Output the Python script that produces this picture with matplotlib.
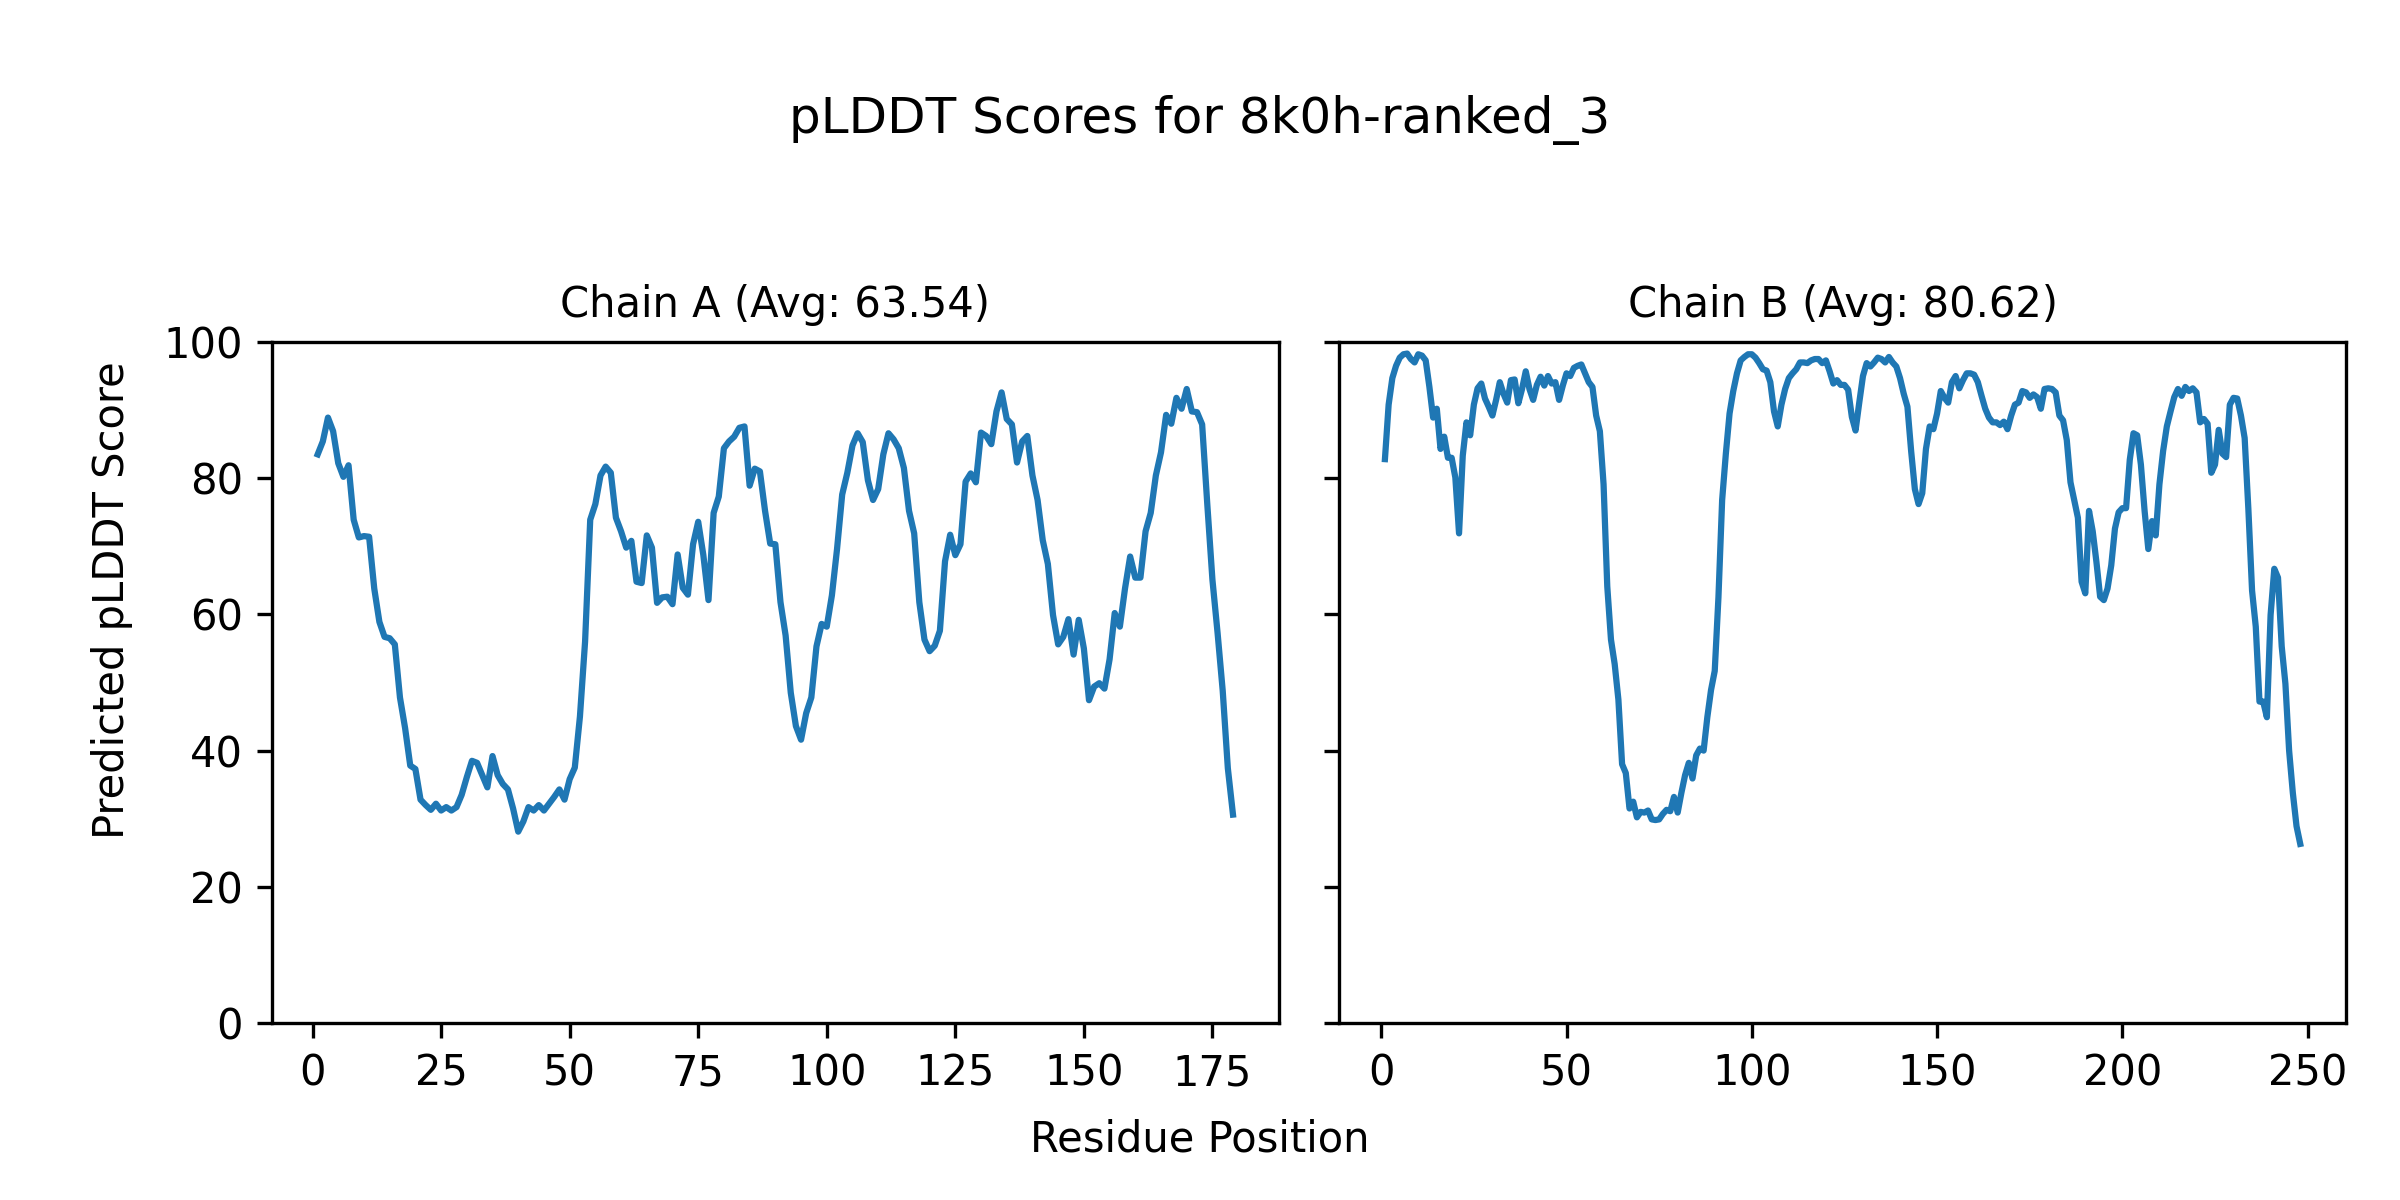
import matplotlib
matplotlib.use("Agg")
import matplotlib.pyplot as plt
import numpy as np

# Per-residue pLDDT values
chain_a_scores = [
    83.5, 85.4, 88.9, 86.9, 82.2, 80.2, 81.9, 73.9, 71.3, 71.5,
    71.4, 63.8, 58.9, 56.7, 56.5, 55.6, 47.8, 43.3, 37.8, 37.3,
    32.8, 32.0, 31.3, 32.2, 31.2, 31.7, 31.2, 31.7, 33.5, 36.1,
    38.5, 38.2, 36.4, 34.6, 39.2, 36.4, 35.1, 34.3, 31.5, 28.1,
    29.6, 31.7, 31.2, 32.0, 31.2, 32.2, 33.2, 34.3, 32.8, 35.8,
    37.5, 45.0, 56.0, 73.9, 76.2, 80.4, 81.7, 80.8, 74.2, 72.2,
    69.8, 70.8, 64.8, 64.6, 71.6, 69.8, 61.7, 62.5, 62.6, 61.5,
    68.8, 63.9, 62.9, 70.3, 73.6, 68.7, 62.1, 74.9, 77.3, 84.4,
    85.4, 86.1, 87.4, 87.6, 78.9, 81.4, 81.0, 75.2, 70.4, 70.3,
    61.8, 56.9, 48.5, 43.6, 41.6, 45.5, 47.8, 55.3, 58.6, 58.2,
    62.8, 69.6, 77.6, 80.8, 84.8, 86.6, 85.3, 79.7, 76.8, 78.4,
    83.5, 86.6, 85.7, 84.4, 81.5, 75.2, 71.9, 61.8, 56.3, 54.6,
    55.4, 57.6, 67.8, 71.7, 68.7, 70.3, 79.5, 80.7, 79.4, 86.7,
    86.2, 85.0, 89.8, 92.6, 88.7, 87.9, 82.3, 85.4, 86.2, 80.4,
    76.8, 70.9, 67.4, 59.9, 55.6, 56.7, 59.3, 54.1, 59.2, 55.0,
    47.4, 49.4, 49.9, 49.1, 53.4, 60.2, 58.2, 63.8, 68.5, 65.4,
    65.4, 72.2, 74.9, 80.4, 83.8, 89.3, 88.0, 91.8, 90.2, 93.1,
    89.8, 89.7, 87.9, 76.2, 65.1, 57.3, 48.8, 37.4, 30.6,
]

chain_b_scores = [
    82.8, 90.8, 94.7, 96.5, 97.7, 98.2, 98.3, 97.5, 97.0, 98.2,
    98.0, 97.3, 93.4, 88.9, 90.2, 84.3, 86.1, 83.0, 83.0, 80.1,
    71.9, 83.3, 88.2, 86.3, 90.8, 93.2, 93.9, 91.7, 90.5, 89.2,
    91.5, 94.1, 92.4, 91.1, 94.4, 94.5, 91.0, 93.1, 95.7, 93.1,
    91.5, 93.7, 94.9, 93.6, 95.0, 93.9, 94.1, 91.5, 93.6, 95.4,
    95.0, 96.2, 96.5, 96.7, 95.4, 94.1, 93.4, 89.2, 86.9, 79.1,
    64.1, 56.3, 52.7, 47.5, 38.0, 36.7, 31.5, 32.5, 30.2, 31.0,
    30.9, 31.2, 29.9, 29.8, 29.9, 30.7, 31.3, 31.1, 33.2, 30.9,
    33.8, 36.4, 38.2, 35.9, 39.3, 40.3, 40.0, 44.9, 48.9, 51.7,
    62.5, 76.8, 83.6, 89.5, 92.8, 95.4, 97.3, 97.8, 98.2, 98.2,
    97.7, 96.9, 96.0, 95.8, 94.1, 89.8, 87.6, 90.8, 93.1, 94.7,
    95.4, 96.0, 97.0, 97.0, 96.9, 97.3, 97.5, 97.5, 96.9, 97.3,
    95.7, 93.9, 94.4, 93.7, 93.7, 93.0, 89.0, 87.0, 91.1, 95.0,
    96.9, 96.4, 97.0, 97.7, 97.5, 97.0, 97.8, 97.0, 96.4, 94.7,
    92.4, 90.5, 84.0, 78.4, 76.2, 77.8, 84.3, 87.6, 87.2, 89.5,
    92.8, 91.8, 91.1, 94.1, 95.0, 93.2, 94.4, 95.4, 95.4, 95.2,
    94.1, 92.1, 90.2, 88.9, 88.2, 88.2, 87.8, 88.3, 87.2, 89.2,
    90.8, 91.1, 92.8, 92.6, 91.8, 92.3, 91.9, 90.2, 93.1, 93.2,
    93.1, 92.6, 89.2, 88.5, 85.6, 79.4, 76.8, 74.2, 64.8, 63.1,
    75.2, 72.2, 67.7, 62.6, 62.1, 63.8, 67.2, 72.6, 75.0, 75.6,
    75.6, 82.7, 86.6, 86.3, 82.0, 75.2, 69.6, 73.7, 71.6, 79.1,
    84.0, 87.6, 89.8, 91.9, 93.1, 92.1, 93.4, 92.8, 93.2, 92.6,
    88.2, 88.7, 88.0, 80.8, 82.0, 87.1, 83.6, 83.1, 90.8, 91.8,
    91.7, 89.2, 85.9, 75.5, 63.5, 58.2, 47.2, 47.2, 44.9, 59.9,
    66.7, 65.4, 55.3, 49.8, 40.0, 33.8, 28.9, 26.3,
]

chain_names = ["A", "B"]
chain_avgs = [63.54, 80.62]
model_name = "8k0h-ranked_3"


def main():
    fig, axes = plt.subplots(1, 2, figsize=(8, 4), dpi=300, sharey=True)
    fig.subplots_adjust(left=0.1133, right=0.9775, bottom=0.1475, top=0.715, wspace=0.06)

    for ax, name, avg, scores in zip(axes, chain_names, chain_avgs,
                                     [chain_a_scores, chain_b_scores]):
        residues = np.arange(1, len(scores) + 1)
        ax.plot(residues, scores)
        ax.set_title(f"Chain {name} (Avg: {avg:.2f})", fontsize=10)
        ax.set_ylim(0, 100)

    fig.suptitle(f"pLDDT Scores for {model_name}", fontsize=12, y=0.90, va="center")
    fig.supxlabel("Residue Position", fontsize=10, y=0.0505, va="center")
    fig.supylabel("Predicted pLDDT Score", fontsize=10, x=0.0466, y=0.5, ha="center", va="center")

    fig.savefig("out.png", dpi=300)
    plt.close(fig)


if __name__ == "__main__":
    main()
